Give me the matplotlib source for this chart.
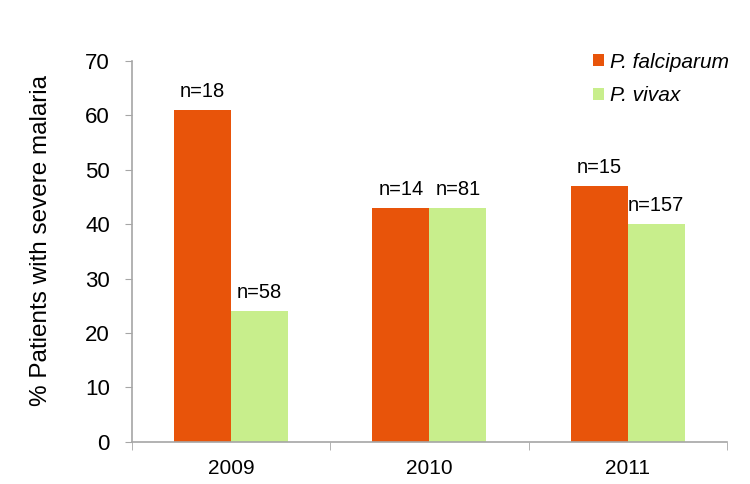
import matplotlib

matplotlib.use("Agg")
import matplotlib.pyplot as plt
from matplotlib.patches import Patch
import numpy as np

plt.rcParams["font.family"] = ["Liberation Sans", "DejaVu Sans"]

YEARS = ["2009", "2010", "2011"]
FALCIPARUM = [61, 43, 47]
VIVAX = [24, 43, 40]
N_FALCIPARUM = [18, 14, 15]
N_VIVAX = [58, 81, 157]

ORANGE = "#E8540A"
GREEN = "#C8EE8C"
AXIS_GRAY = "#A6A6A6"

fig = plt.figure(figsize=(7.5, 4.84), dpi=100)
ax = fig.add_axes([0.176, 0.087, 0.793, 0.787])

x = np.arange(len(YEARS))
w = 0.287
ax.bar(x - w / 2, FALCIPARUM, w, color=ORANGE)
ax.bar(x + w / 2, VIVAX, w, color=GREEN)

for xi, v, n in zip(x - w / 2, FALCIPARUM, N_FALCIPARUM):
    ax.text(xi, v + 1.7, f"n={n}", ha="center", va="bottom", fontsize=14.5)
for xi, v, n in zip(x + w / 2, VIVAX, N_VIVAX):
    ax.text(xi, v + 1.7, f"n={n}", ha="center", va="bottom", fontsize=14.5)

ax.set_xlim(-0.5, 2.5)
ax.set_ylim(0, 70)
ax.set_yticks(range(0, 71, 10))
ax.set_xticks(x)
ax.set_xticklabels(YEARS)
ax.set_xticks([-0.5, 0.5, 1.5, 2.5], minor=True)
ax.tick_params(axis="x", which="major", length=0, labelsize=15, pad=12)
ax.tick_params(axis="x", which="minor", length=6, color=AXIS_GRAY, direction="out")
ax.tick_params(axis="y", length=5, color=AXIS_GRAY, labelsize=16, pad=11)

for side in ("top", "right"):
    ax.spines[side].set_visible(False)
for side in ("left", "bottom"):
    ax.spines[side].set_color(AXIS_GRAY)
    ax.spines[side].set_linewidth(1.2)

ax.set_ylabel("% Patients with severe malaria", fontsize=17.5)
ax.yaxis.set_label_coords(-0.134, 0.528)

handles = [
    Patch(facecolor=ORANGE, label="P. falciparum"),
    Patch(facecolor=GREEN, label="P. vivax"),
]
leg = fig.legend(
    handles=handles,
    loc="upper left",
    bbox_to_anchor=(0.766, 0.93),
    frameon=False,
    fontsize=15,
    handlelength=0.5,
    handleheight=0.5,
    handletextpad=0.3,
    labelspacing=0.7,
)
for t in leg.get_texts():
    t.set_fontstyle("italic")

fig.savefig("out.png", dpi=100)
